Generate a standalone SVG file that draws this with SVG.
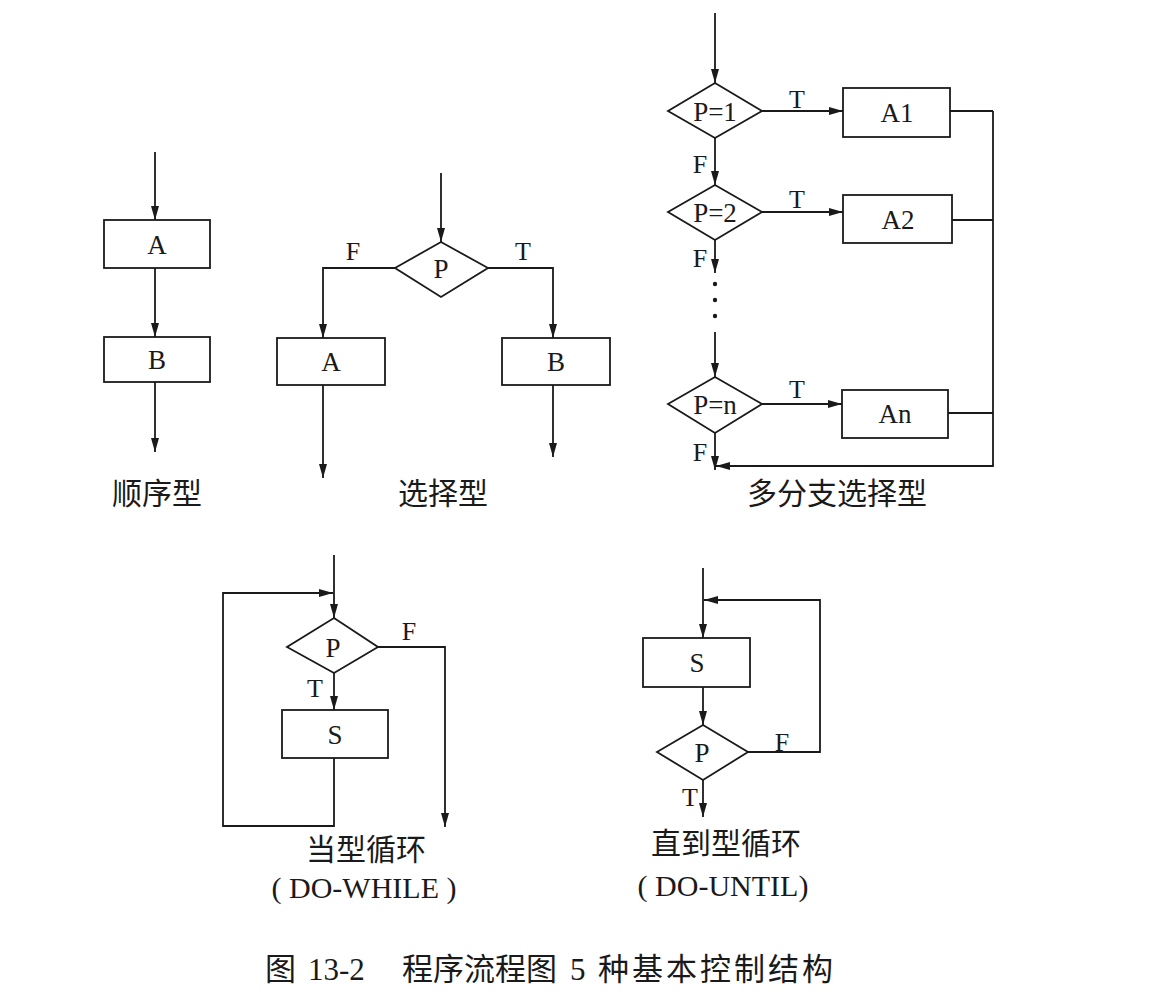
<svg xmlns="http://www.w3.org/2000/svg" width="1152" height="997" viewBox="0 0 1152 997">
<defs>
<marker id="ar" viewBox="0 0 14 8" refX="14" refY="4" markerWidth="14" markerHeight="8" orient="auto" markerUnits="userSpaceOnUse">
<path d="M0,0 L14,4 L0,8 z" fill="#1a1a1a"/>
</marker>
<style>
.ln{fill:none;stroke:#1a1a1a;stroke-width:1.8}
.ar{fill:none;stroke:#1a1a1a;stroke-width:1.8;marker-end:url(#ar)}
.bx{fill:#fff;stroke:#1a1a1a;stroke-width:1.8}
.t{font-family:"Liberation Serif","Noto Sans CJK SC",serif;font-size:27px;fill:#1a1a1a;text-anchor:middle}
.tl{font-family:"Liberation Serif","Noto Sans CJK SC",serif;font-size:26px;fill:#1a1a1a;text-anchor:middle}
.cn{font-family:"Liberation Serif","Noto Sans CJK SC",sans-serif;font-size:30px;fill:#1a1a1a;text-anchor:middle}
.en{font-family:"Liberation Serif",serif;font-size:30px;fill:#1a1a1a;text-anchor:middle}
.cap{font-family:"Liberation Serif","Noto Sans CJK SC",sans-serif;font-size:31px;fill:#1a1a1a}
</style>
</defs>
<rect width="1152" height="997" fill="#fff"/>

<g id="connectors">
<line class="ar" x1="155" y1="152" x2="155" y2="220"/>
<line class="ar" x1="155" y1="268" x2="155" y2="337"/>
<line class="ar" x1="155" y1="382" x2="155" y2="452"/>
<line class="ar" x1="441" y1="173" x2="441" y2="242"/>
<path class="ar" d="M395,268 H323 V338"/>
<line class="ar" x1="323" y1="385" x2="323" y2="478"/>
<path class="ar" d="M488,268 H553 V338"/>
<line class="ar" x1="553" y1="385" x2="553" y2="457"/>
<line class="ar" x1="715" y1="13" x2="715" y2="83"/>
<line class="ar" x1="762" y1="111" x2="843" y2="111"/>
<line class="ln" x1="950" y1="111" x2="993" y2="111"/>
<line class="ar" x1="715" y1="138" x2="715" y2="185"/>
<line class="ar" x1="762" y1="212" x2="843" y2="212"/>
<line class="ln" x1="952" y1="220" x2="993" y2="220"/>
<line class="ar" x1="715" y1="240" x2="715" y2="273"/>
<line class="ar" x1="715" y1="332" x2="715" y2="377"/>
<line class="ar" x1="762" y1="404" x2="842" y2="404"/>
<line class="ln" x1="948" y1="413" x2="993" y2="413"/>
<path class="ar" d="M993,111 V466 H716"/>
<line class="ar" x1="715" y1="433" x2="715" y2="470"/>
<line class="ar" x1="334" y1="555" x2="334" y2="618"/>
<path class="ar" d="M334,758 V826 H223 V593 H333"/>
<path class="ar" d="M378,647 H445 V827"/>
<line class="ar" x1="334" y1="673" x2="334" y2="710"/>
<line class="ar" x1="703" y1="568" x2="703" y2="638"/>
<line class="ar" x1="703" y1="687" x2="703" y2="725"/>
<path class="ar" d="M748,752 H820 V600 H704"/>
<line class="ar" x1="703" y1="780" x2="703" y2="817"/>
</g>

<g id="seq-A"><rect class="bx" x="104" y="220" width="106" height="48"/><text class="t" x="157" y="254">A</text></g>
<g id="seq-B"><rect class="bx" x="104" y="337" width="106" height="45"/><text class="t" x="157" y="369">B</text></g>
<g id="seq-label"><text class="cn" x="157" y="504">顺序型</text></g>

<g id="sel-P"><polygon class="bx" points="441,242 488,268 441,297 395,268"/><text class="t" x="441" y="278">P</text></g>
<g id="sel-A"><rect class="bx" x="277" y="338" width="108" height="47"/><text class="t" x="331" y="371">A</text></g>
<g id="sel-B"><rect class="bx" x="502" y="338" width="108" height="47"/><text class="t" x="556" y="371">B</text></g>
<g id="sel-labels"><text class="tl" x="353" y="260">F</text><text class="tl" x="523" y="260">T</text><text class="cn" x="443" y="504">选择型</text></g>

<g id="mb-P1"><polygon class="bx" points="715,83 762,111 715,138 668,111"/><text class="t" x="715" y="121">P=1</text></g>
<g id="mb-A1"><rect class="bx" x="843" y="88" width="107" height="49"/><text class="t" x="897" y="122">A1</text></g>
<g id="mb-P2"><polygon class="bx" points="715,185 762,212 715,240 668,212"/><text class="t" x="715" y="222">P=2</text></g>
<g id="mb-A2"><rect class="bx" x="843" y="195" width="109" height="48"/><text class="t" x="898" y="229">A2</text></g>
<g id="mb-dots"><circle cx="715" cy="284" r="2.2" fill="#1a1a1a"/><circle cx="715" cy="300" r="2.2" fill="#1a1a1a"/><circle cx="715" cy="316" r="2.2" fill="#1a1a1a"/></g>
<g id="mb-Pn"><polygon class="bx" points="715,377 762,404 715,433 668,404"/><text class="t" x="715" y="414">P=n</text></g>
<g id="mb-An"><rect class="bx" x="842" y="390" width="106" height="48"/><text class="t" x="895" y="423">An</text></g>
<g id="mb-labels">
<text class="tl" x="797" y="108">T</text><text class="tl" x="797" y="208">T</text><text class="tl" x="797" y="398">T</text>
<text class="tl" x="700" y="173">F</text><text class="tl" x="700" y="267">F</text><text class="tl" x="700" y="461">F</text>
<text class="cn" x="837" y="504">多分支选择型</text>
</g>

<g id="dw-P"><polygon class="bx" points="334,618 378,647 334,673 287,647"/><text class="t" x="333" y="657">P</text></g>
<g id="dw-S"><rect class="bx" x="282" y="710" width="106" height="48"/><text class="t" x="335" y="744">S</text></g>
<g id="dw-labels"><text class="tl" x="409" y="640">F</text><text class="tl" x="315" y="697">T</text>
<text class="cn" x="366" y="860">当型循环</text><text class="en" x="364" y="898">( DO-WHILE )</text></g>

<g id="du-S"><rect class="bx" x="643" y="638" width="107" height="49"/><text class="t" x="697" y="672">S</text></g>
<g id="du-P"><polygon class="bx" points="703,725 748,752 703,780 657,752"/><text class="t" x="702" y="762">P</text></g>
<g id="du-labels"><text class="tl" x="782" y="751">F</text><text class="tl" x="690" y="806">T</text>
<text class="cn" x="726" y="854">直到型循环</text><text class="en" x="723" y="896">( DO-UNTIL)</text></g>

<g id="caption"><text class="cap" y="980"><tspan x="265">图</tspan><tspan x="308">13-2</tspan><tspan x="402" textLength="155" lengthAdjust="spacing">程序流程图</tspan><tspan x="570">5</tspan><tspan x="598" textLength="235" lengthAdjust="spacing">种基本控制结构</tspan></text></g>
</svg>
